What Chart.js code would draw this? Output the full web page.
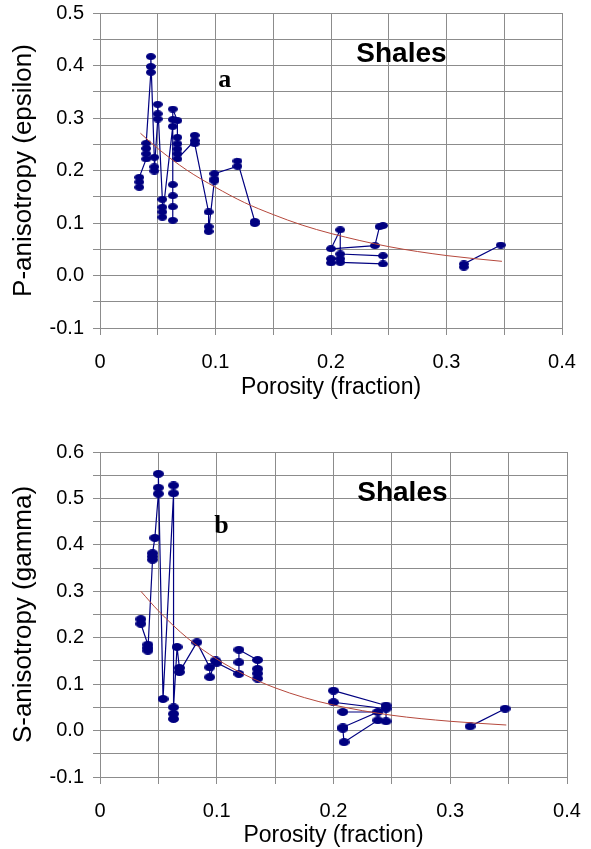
<!DOCTYPE html>
<html>
<head>
<meta charset="utf-8">
<script src="https://cdn.jsdelivr.net/npm/chart.js@4.4.1/dist/chart.umd.min.js"></script>
<style>
  body { margin: 0; background: #fff; }
  canvas { position: absolute; left: 0; }
</style>
</head>
<body>
<canvas id="chartA" width="591" height="402" style="top:0px"></canvas>
<canvas id="chartB" width="591" height="447" style="top:402px"></canvas>
<script>
// Panel a: P-anisotropy (epsilon) vs porosity, null = break in the line
const porosityA = [
  0.034, 0.034, 0.034,
  0.040, 0.040, 0.040, 0.040,
  0.044, 0.044, 0.044,
  0.047, 0.047, 0.047,
  0.050, 0.050, 0.050,
  0.054, 0.054, 0.054, 0.054,
  0.063, 0.063, 0.063, 0.063, 0.063, 0.063, 0.063,
  0.067, 0.067, 0.067, 0.067, 0.067, 0.067,
  0.082, 0.082, 0.082,
  0.094, 0.094, 0.094,
  0.099, 0.099, 0.099,
  0.119, 0.119,
  0.134, 0.134,
  null,
  0.245, 0.242, 0.238, 0.200, 0.208, 0.208, 0.245, 0.245, 0.208, 0.208, 0.200, 0.200,
  null,
  0.315, 0.315, 0.347
];
const epsilonA = [
  0.168, 0.178, 0.187,
  0.222, 0.232, 0.242, 0.252,
  0.387, 0.398, 0.417,
  0.225, 0.207, 0.199,
  0.298, 0.308, 0.326,
  0.145, 0.130, 0.121, 0.111,
  0.284, 0.173, 0.152, 0.131, 0.105, 0.297, 0.317,
  0.295, 0.263, 0.251, 0.241, 0.232, 0.222,
  0.257, 0.267, 0.251,
  0.121, 0.093, 0.084,
  0.180, 0.184, 0.194,
  0.208, 0.218,
  0.103, 0.099,
  null,
  0.095, 0.093, 0.057, 0.051, 0.087, 0.041, 0.0375, 0.022, 0.025, 0.032, 0.032, 0.024,
  null,
  0.016, 0.022, 0.058
];
const trendPorosityA = [0.035, 0.05, 0.075, 0.1, 0.125, 0.15, 0.175, 0.2, 0.25, 0.3, 0.348];
const trendEpsilonA = [0.271, 0.242, 0.201, 0.168, 0.139, 0.116, 0.096, 0.080, 0.055, 0.038, 0.027];

// Panel b: S-anisotropy (gamma) vs porosity
const porosityB = [
  0.035, 0.035,
  0.041, 0.041, 0.041,
  0.045, 0.045, 0.045,
  0.047,
  0.050, 0.050, 0.050,
  0.054,
  0.063, 0.063,
  0.063, 0.063, 0.063,
  0.066,
  0.068, 0.068,
  0.083,
  0.094, 0.094,
  0.099, 0.100,
  0.119, 0.119, 0.119,
  0.135, 0.135, 0.135, 0.135,
  null,
  0.245, 0.200, 0.200, 0.245, 0.245, 0.238, 0.209, 0.208, 0.208, 0.238, 0.208,
  null,
  0.317, 0.347
];
const gammaB = [
  0.240, 0.230,
  0.185, 0.178, 0.172,
  0.368, 0.375, 0.382,
  0.415,
  0.510, 0.523, 0.553,
  0.068,
  0.511, 0.528,
  0.025, 0.036, 0.050,
  0.180,
  0.135, 0.126,
  0.190,
  0.136, 0.115,
  0.151, 0.146,
  0.122, 0.147, 0.174,
  0.152, 0.133, 0.123, 0.112,
  null,
  0.054, 0.086, 0.061, 0.047, 0.020, 0.022, -0.025, 0.004, 0.007, 0.040, 0.040,
  null,
  0.009, 0.047
];
const trendPorosityB = [0.035, 0.05, 0.075, 0.1, 0.125, 0.15, 0.175, 0.2, 0.25, 0.3, 0.348];
const trendGammaB = [0.300, 0.258, 0.199, 0.154, 0.119, 0.092, 0.071, 0.055, 0.033, 0.020, 0.012];

// labels only every other tick (grid is every 0.05)
const xTickLabels = ['0', '0.1', '0.2', '0.3', '0.4'];
const yTickLabelsA = ['-0.1', '0.0', '0.1', '0.2', '0.3', '0.4', '0.5'];
const yTickLabelsB = ['-0.1', '0.0', '0.1', '0.2', '0.3', '0.4', '0.5', '0.6'];

const navy = '#000080';
const gridGrey = '#8c8c8c';
const sans = "'Liberation Sans', Arial, sans-serif";

function ellipse(w, h) {
  const c = document.createElement('canvas');
  c.width = w;
  c.height = h;
  const g = c.getContext('2d');
  g.fillStyle = navy;
  g.beginPath();
  g.ellipse(w / 2, h / 2, w / 2, h / 2, 0, 0, Math.PI * 2);
  g.fill();
  return c;
}

function pairs(xs, ys) {
  return xs.map((x, i) => ({ x: x, y: ys[i] }));
}

// don't let tick labels push the plot area around
function noPad(s) {
  s.paddingTop = 0;
  s.paddingBottom = 0;
  s.paddingLeft = 0;
  s.paddingRight = 0;
}

// draws the "Shales" and panel letters at data positions
const notesPlugin = {
  id: 'notes',
  afterDatasetsDraw(chart, args, opts) {
    const ctx = chart.ctx;
    ctx.save();
    ctx.fillStyle = '#000';
    ctx.textAlign = 'center';
    ctx.textBaseline = 'middle';
    opts.items.forEach(n => {
      ctx.font = n.font;
      ctx.fillText(n.text, chart.scales.x.getPixelForValue(n.x), chart.scales.y.getPixelForValue(n.y));
    });
    ctx.restore();
  }
};

function makeChart(id, o) {
  return new Chart(document.getElementById(id), {
    type: 'scatter',
    data: {
      datasets: [{
        data: o.trend,
        showLine: true,
        borderColor: '#b5483c',
        borderWidth: 1,
        pointRadius: 0,
        cubicInterpolationMode: 'monotone'
      }, {
        data: o.points,
        showLine: true,
        spanGaps: false,
        borderColor: navy,
        borderWidth: 1.2,
        pointStyle: o.dot,
        pointRadius: 4
      }]
    },
    options: {
      responsive: false,
      animation: false,
      events: [],
      layout: { padding: o.pad },
      plugins: {
        legend: { display: false },
        tooltip: { enabled: false },
        notes: { items: o.notes }
      },
      scales: {
        x: {
          type: 'linear',
          min: 0,
          max: 0.4,
          grid: { color: gridGrey, tickColor: gridGrey, tickLength: 7 },
          border: { color: gridGrey },
          ticks: {
            stepSize: 0.05,
            autoSkip: false,
            maxRotation: 0,
            padding: 15,
            color: '#000',
            font: { family: sans, size: 20 },
            callback: (v, i) => (i % 2 === 0 ? xTickLabels[i / 2] : '')
          },
          title: {
            display: true,
            text: 'Porosity (fraction)',
            color: '#000',
            font: { family: sans, size: 23 },
            padding: { top: 0, bottom: o.xTitlePad }
          },
          afterFit: s => { s.height = o.xHeight; noPad(s); }
        },
        y: {
          type: 'linear',
          min: -0.1,
          max: o.yMax,
          grid: { color: gridGrey, tickColor: gridGrey, tickLength: 7 },
          border: { color: gridGrey },
          ticks: {
            stepSize: 0.05,
            autoSkip: false,
            padding: 9,
            color: '#000',
            font: { family: sans, size: 20 },
            callback: (v, i) => (i % 2 === 0 ? o.yLabels[i / 2] : '')
          },
          title: {
            display: true,
            text: o.yTitle,
            color: '#000',
            font: { family: sans, size: 26 },
            padding: { top: 8, bottom: 0 }
          },
          afterFit: s => { s.width = 100; noPad(s); }
        }
      }
    },
    plugins: [notesPlugin]
  });
}

makeChart('chartA', {
  points: pairs(porosityA, epsilonA),
  trend: pairs(trendPorosityA, trendEpsilonA),
  dot: ellipse(10, 7),
  yMax: 0.5,
  yLabels: yTickLabelsA,
  yTitle: 'P-anisotropy (epsilon)',
  pad: { left: 0, right: 29, top: 13, bottom: 0 },
  xHeight: 74,
  xTitlePad: 1,
  notes: [
    { text: 'Shales', x: 0.261, y: 0.421, font: "bold 28px 'Liberation Sans', Arial, sans-serif" },
    { text: 'a', x: 0.108, y: 0.371, font: "bold 26px 'Liberation Serif', 'Times New Roman', serif" }
  ]
});

makeChart('chartB', {
  points: pairs(porosityB, gammaB),
  trend: pairs(trendPorosityB, trendGammaB),
  dot: ellipse(11, 8),
  yMax: 0.6,
  yLabels: yTickLabelsB,
  yTitle: 'S-anisotropy (gamma)',
  pad: { left: 0, right: 24, top: 50, bottom: 0 },
  xHeight: 72,
  xTitlePad: 0,
  notes: [
    { text: 'Shales', x: 0.259, y: 0.511, font: "bold 28px 'Liberation Sans', Arial, sans-serif" },
    { text: 'b', x: 0.104, y: 0.440, font: "bold 26px 'Liberation Serif', 'Times New Roman', serif" }
  ]
});
</script>
</body>
</html>
